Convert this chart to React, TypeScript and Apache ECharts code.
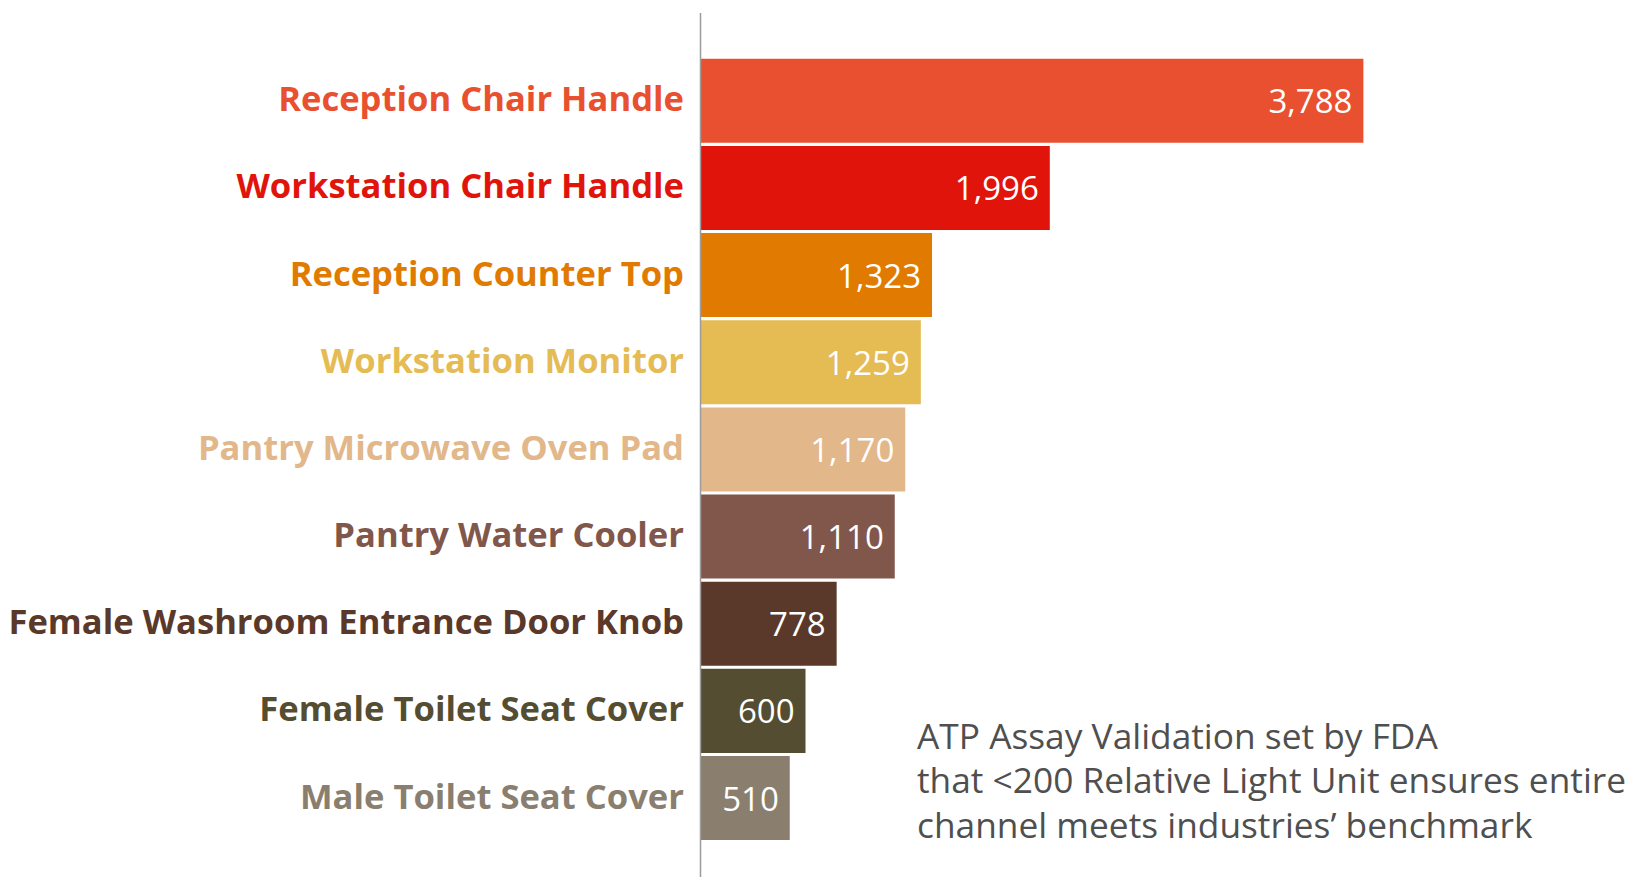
import React, { useEffect, useRef } from "react";
import * as echarts from "echarts";

const categories = [
  "Reception Chair Handle",
  "Workstation Chair Handle",
  "Reception Counter Top",
  "Workstation Monitor",
  "Pantry Microwave Oven Pad",
  "Pantry Water Cooler",
  "Female Washroom Entrance Door Knob",
  "Female Toilet Seat Cover",
  "Male Toilet Seat Cover",
];
const values = [3788, 1996, 1323, 1259, 1170, 1110, 778, 600, 510];
const colors = [
  "#E8502F",
  "#E1140B",
  "#E07A00",
  "#E5BB53",
  "#E2B78A",
  "#80574A",
  "#5A382A",
  "#554D31",
  "#8A7E6F",
];
const noteLines = [
  "ATP Assay Validation set by FDA",
  "that <200 Relative Light Unit ensures entire",
  "channel meets industries\u2019 benchmark",
];

export default function App() {
  const ref = useRef<HTMLDivElement>(null);
  useEffect(() => {
    if (!ref.current) return;
    const chart = echarts.init(ref.current, undefined, { renderer: "svg" });
    chart.setOption({
      animation: false,
      backgroundColor: "#ffffff",
      grid: {
        left: 700.5,
        top: 57.2,
        width: 700,
        height: 784.4,
        containLabel: false,
        outerBoundsMode: "none",
      },
      xAxis: {
        type: "value",
        min: 0,
        max: 4000,
        show: false,
      },
      yAxis: {
        type: "category",
        data: categories,
        inverse: true,
        axisLine: { show: false },
        axisTick: { show: false },
        axisLabel: {
          margin: 16.5,
          fontFamily: "Open Sans",
          fontWeight: "bold",
          fontSize: 34.6,
          verticalAlign: "bottom",
          lineHeight: 6,
          color: (_v: any, i: number) => colors[i],
        },
      },
      series: [
        {
          type: "bar",
          data: values.map((v, i) => ({ value: v, itemStyle: { color: colors[i] } })),
          barCategoryGap: "3.6%",
          label: {
            show: true,
            position: "insideRight",
            distance: 11,
            color: "#ffffff",
            fontFamily: "Open Sans",
            fontSize: 33,
            formatter: (p: any) => p.value.toLocaleString("en-US"),
          },
        },
      ],
      graphic: [
        {
          type: "line",
          shape: { x1: 700.5, y1: 13, x2: 700.5, y2: 877 },
          style: { stroke: "#9c9c9c", lineWidth: 1.5 },
          z: 10,
        },
        {
          type: "text",
          left: 917,
          top: 713,
          style: {
            text: noteLines.join("\n"),
            fontFamily: "Open Sans",
            fontSize: 35.3,
            lineHeight: 44.3,
            fill: "#4f4f4f",
          },
        },
      ],
    });
    return () => chart.dispose();
  }, []);
  return (
    <div
      ref={ref}
      style={{ position: "fixed", left: 0, top: 0, width: 1647, height: 877 }}
    />
  );
}
